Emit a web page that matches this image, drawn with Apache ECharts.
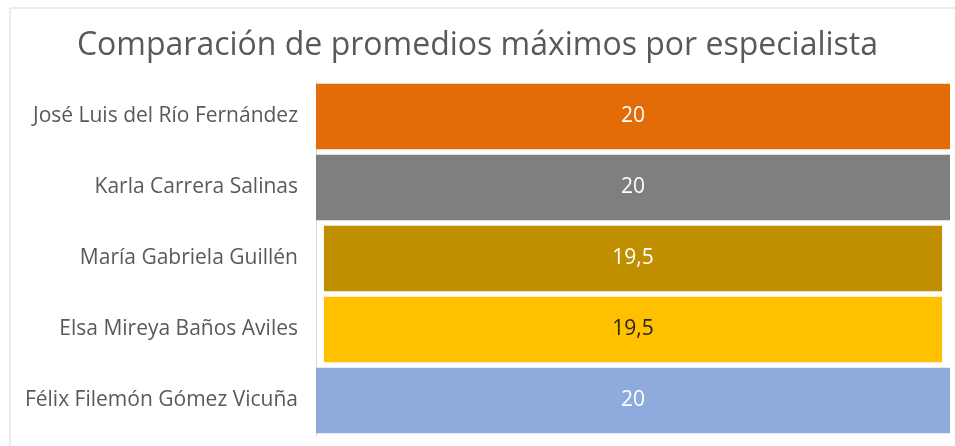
<!DOCTYPE html>
<html>
<head>
<meta charset="utf-8">
<script src="https://cdn.jsdelivr.net/npm/echarts@6/dist/echarts.min.js"></script>
<style>
  html, body { margin: 0; padding: 0; background: #fff; }
  #main { width: 955px; height: 446px; }
</style>
</head>
<body>
<div id="main"></div>
<script>
// datos del gráfico (de arriba a abajo)
const especialistas = [
  'José Luis del Río Fernández',
  'Karla Carrera Salinas',
  'María Gabriela Guillén',
  'Elsa Mireya Baños Aviles',
  'Félix Filemón Gómez Vicuña'
];
const promedios = [20, 20, 19.5, 19.5, 20];
const colores = ['#E36C09', '#7F7F7F', '#BF8F00', '#FFC000', '#8FAADC'];
const coloresTexto = ['#fff', '#fff', '#fff', '#262626', '#fff'];
const maximo = 20;

// desplazamiento invisible para centrar las barras (tipo embudo)
const relleno = promedios.map(v => (maximo - v) / 2);

const chart = echarts.init(document.getElementById('main'));
const option = {
  animation: false,
  title: {
    text: 'Comparación de promedios máximos por especialista',
    left: 'center',
    top: 25,
    textStyle: {
      fontFamily: 'Open Sans',
      fontWeight: 'normal',
      fontSize: 32,
      color: '#595959'
    }
  },
  graphic: [{
    type: 'rect',
    shape: { x: 10, y: 8, width: 960, height: 460 },
    style: { fill: 'none', stroke: '#d9d9d9', lineWidth: 1 },
    silent: true
  }],
  grid: { left: 316, right: 5, top: 81, bottom: 10 },
  xAxis: {
    type: 'value',
    min: 0,
    max: maximo,
    show: false
  },
  yAxis: {
    type: 'category',
    inverse: true,
    data: especialistas,
    axisTick: { show: false },
    axisLine: { show: true, lineStyle: { color: '#d9d9d9' } },
    axisLabel: {
      margin: 18,
      fontFamily: 'Open Sans',
      fontSize: 21,
      color: '#595959'
    }
  },
  series: [
    {
      type: 'bar',
      stack: 'embudo',
      data: relleno,
      barCategoryGap: '8%',
      itemStyle: { color: 'transparent' },
      silent: true
    },
    {
      type: 'bar',
      stack: 'embudo',
      barCategoryGap: '8%',
      data: promedios.map((v, i) => ({
        value: v,
        itemStyle: { color: colores[i] },
        label: { color: coloresTexto[i] }
      })),
      label: {
        show: true,
        position: 'inside',
        fontFamily: 'Open Sans',
        fontSize: 21,
        formatter: p => String(p.value).replace('.', ',')
      }
    },
    {
      type: 'bar',
      stack: 'embudo',
      data: relleno,
      barCategoryGap: '8%',
      itemStyle: { color: 'transparent' },
      silent: true
    }
  ]
};
chart.setOption(option);
</script>
</body>
</html>
